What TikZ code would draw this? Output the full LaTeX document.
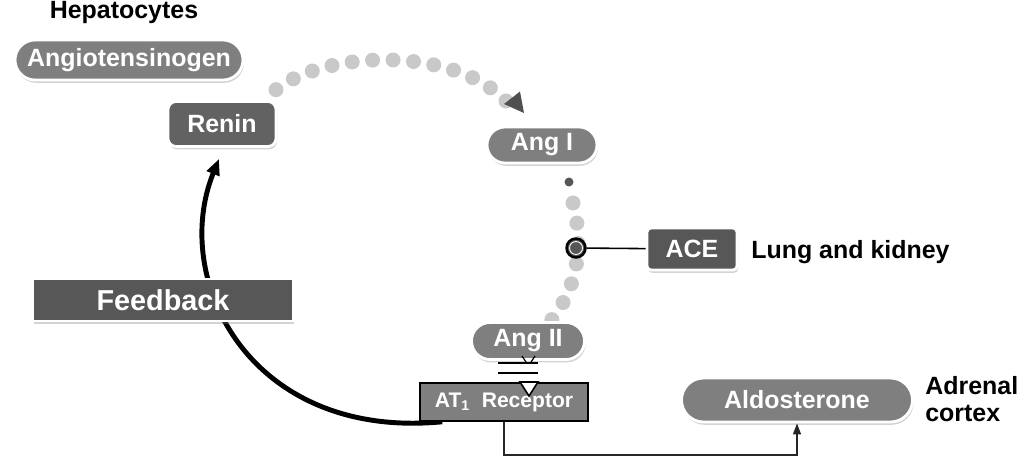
\documentclass[tikz,border=0pt]{standalone}
\usepackage{fontspec}
\setmainfont{Liberation Sans}
\usetikzlibrary{shadows,arrows.meta,backgrounds}
\definecolor{pillgray}{HTML}{7F7F7F}
\definecolor{darkbox}{HTML}{575757}
\definecolor{reningray}{HTML}{626262}
\definecolor{dotgray}{HTML}{C9C9C9}
\definecolor{tipgray}{HTML}{505050}
\begin{document}
\begin{tikzpicture}[x=0.02cm,y=-0.02cm,
  lbl/.style={font=\bfseries\fontsize{14.2}{15}\selectfont, text=black, inner sep=0pt},
  box/.style={draw=white, line width=1.6pt, text=white, inner sep=0pt,
    font=\bfseries\fontsize{14.2}{17}\selectfont,
    drop shadow={opacity=0.35, shadow xshift=0.6pt, shadow yshift=-1.6pt}},
  dots/.style={draw=dotgray, line width=0.3cm, line cap=round, dash pattern=on 0pt off 0.41cm},
  fbline/.style={line width=2.8pt, -{Triangle[length=0.32cm,width=0.26cm]}},
  thinline/.style={line width=0.8pt, draw=black!85, -{Triangle[length=0.22cm,width=0.16cm]}}
]
\useasboundingbox (0,0) rectangle (1024,460);

\node[lbl] (hep) at (124,13) {Hepatocytes};
\node[box, fill=pillgray, minimum width=4.56cm, minimum height=0.8cm, rounded corners=0.4cm] (agt) at (129,60) {Angiotensinogen};
\node[box, fill=reningray, minimum width=2.16cm, minimum height=0.9cm, rounded corners=0.16cm] (renin) at (222,124) {Renin};
\node[box, fill=pillgray, minimum width=2.2cm, minimum height=0.72cm, rounded corners=0.36cm] (ang1) at (542,145) {Ang I};
\node[box, fill=darkbox, minimum width=1.8cm, minimum height=0.84cm, rounded corners=0.08cm] (ace) at (692,249) {ACE};
\node[lbl, anchor=west] (lk) at (751,252) {Lung and kidney};
\node[box, fill=darkbox, minimum width=5.2cm, minimum height=0.84cm, font=\bfseries\fontsize{16.4}{19}\selectfont] (fb) at (163,300) {Feedback};
\node[box, fill=pillgray, minimum width=2.26cm, minimum height=0.74cm, rounded corners=0.37cm] (ang2) at (528,341) {Ang II};
\node[fill=pillgray, draw=black, line width=0.9pt, text=white, inner sep=0pt,
  font=\bfseries\fontsize{12}{14}\selectfont, minimum width=3.36cm, minimum height=0.76cm] (rec) at (504,402) {AT\textsubscript{1}\ \ Receptor};
\node[box, fill=pillgray, minimum width=4.62cm, minimum height=0.88cm, rounded corners=0.44cm] (ald) at (797,400) {Aldosterone};
\node[lbl, anchor=west, align=left] (adr) at (925,399) {Adrenal\\cortex};

\node[circle, fill=darkbox, minimum size=0.18cm, inner sep=0pt] (sdot) at (569,182) {};
\node[circle, fill=darkbox, draw=black, line width=1.4pt, minimum size=0.38cm, inner sep=0pt] (acec) at (576,248) {};
\draw[white, line width=0.5pt] (acec.center) circle [radius=0.13cm];

\coordinate (arcS) at (272,93);
\coordinate (arcE) at (506,101);
\coordinate (vS) at (573,203);
\coordinate (vE) at (550,322);
\coordinate (turn) at (797,455);

\begin{scope}[on background layer]
  \draw[dots] (arcE) .. controls (452,45) and (320,50) .. (arcS);
  \draw[dots] (vS) .. controls (583,242) and (580,285) .. (vE);
  \draw[fbline] ([xshift=0.46cm]rec.south west) .. controls (250,440) and (170,280) .. ([xshift=-0.06cm,yshift=-0.22cm]renin.south);
\end{scope}
\fill[tipgray] (504,104) -- (524,113) -- (520,91.5) -- cycle;

\draw[line width=0.9pt] (acec) -- (ace);

\draw[line width=0.8pt] (498,363) -- (538,363) (498,373) -- (538,373);
\draw[line width=0.7pt] (522,356) -- (526,362) (535,356) -- (531,362);
\filldraw[fill=white, draw=black, line width=0.9pt] (520,382) -- (538,382) -- (529,396) -- cycle;

\draw[thinline] (rec.south) |- (turn) -- (ald.south);
\end{tikzpicture}
\end{document}
